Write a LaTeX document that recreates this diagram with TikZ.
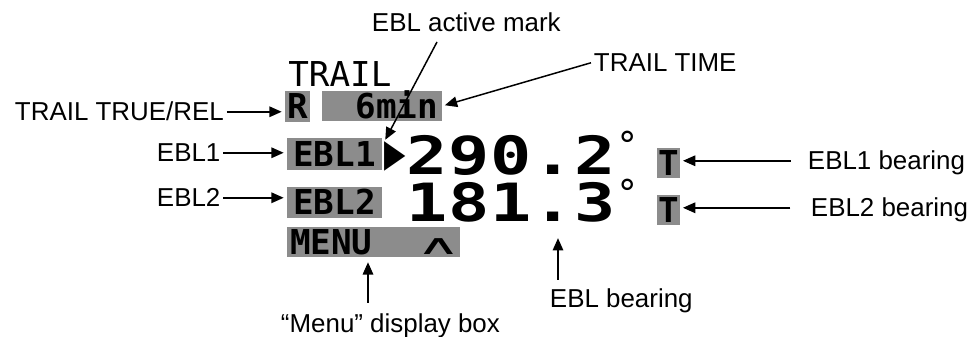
\documentclass[tikz,border=0pt]{standalone}
\usepackage{fontspec}
\setmainfont{Liberation Sans}
\newfontfamily\lcdfont{DejaVu Sans Mono}
\newfontfamily\symfont{DejaVu Sans}
\usepackage{xcolor}
\usetikzlibrary{arrows.meta}
\definecolor{lcdgray}{RGB}{140,140,140}

\begin{document}
\begin{tikzpicture}[x=0.02cm,y=-0.02cm,
  callout/.style={font=\fontsize{14.75pt}{17pt}\selectfont,inner xsep=1.5pt,inner ysep=0pt,text height=10.5pt,text depth=0pt,anchor=base west},
  lcdbox/.style={fill=lcdgray,inner sep=0pt,font=\lcdfont\bfseries\fontsize{19.5pt}{21pt}\selectfont,text height=14pt,text depth=0pt},
  digit/.style={font=\lcdfont\bfseries\fontsize{30pt}{32pt}\selectfont,inner sep=0pt,anchor=base},
  degree/.style={font=\symfont\fontsize{21pt}{23pt}\selectfont,inner sep=0pt,anchor=north},
  pointer/.style={-{Triangle[length=7pt,width=6pt]},line width=0.85pt}]
\useasboundingbox (0,0) rectangle (968,337);

% Display
\node[font=\lcdfont\fontsize{19.5pt}{21pt}\selectfont,inner sep=0pt,anchor=base west] (trail) at (288,87) {TRAIL};
\node[lcdbox,minimum width=0.5cm,minimum height=0.62cm] (rbox) at (297.5,106.5) {R};
\node[lcdbox,inner xsep=0.08cm,text width=2.24cm,align=right,minimum height=0.6cm] (minbox) at (382,106) {6min};
\node[lcdbox,minimum width=1.9cm,minimum height=0.64cm] (ebl1box) at (334.5,154) {EBL1};
\node[lcdbox,minimum width=1.9cm,minimum height=0.62cm] (ebl2box) at (334.5,202.5) {EBL2};
\node[lcdbox,inner xsep=0.06cm,text width=3.34cm,align=left,minimum height=0.6cm] (menubox) at (373.5,242)
  {MENU\hfill{\symfont\mdseries\scalebox{1.8}[0.8]{∧}}\kern-0.08cm};
\node[font=\symfont\fontsize{22pt}{24pt}\selectfont,inner sep=0pt] (mark) at (395.5,156.5) {\scalebox{0.72}[1]{▶}};
\foreach \ch [count=\i] in {2,9,0,.,2}
  \node[digit] (ra\i) at (385+42*\i,175) {\scalebox{1.3}[1]{\ch}};
\foreach \ch [count=\i] in {1,8,1,.,3}
  \node[digit] (rb\i) at (385+42*\i,222) {\scalebox{1.3}[1]{\ch}};
\node[degree] (dega) at (628,131) {°};
\node[degree] (degb) at (628,179) {°};
\node[lcdbox,minimum width=0.46cm,minimum height=0.6cm] (t1box) at (668.5,163) {T};
\node[lcdbox,minimum width=0.46cm,minimum height=0.6cm] (t2box) at (668.5,210) {T};

% Labels
\node[callout] (active) at (369,32) {EBL active mark};
\node[callout] (trailtime) at (591,72) {TRAIL TIME};
\node[callout] (truerel) at (12,121) {TRAIL TRUE/REL};
\node[callout] (ebl1lbl) at (154,162) {EBL1};
\node[callout] (ebl2lbl) at (154,207) {EBL2};
\node[callout] (brg1lbl) at (805,170) {EBL1 bearing};
\node[callout] (brg2lbl) at (808,217) {EBL2 bearing};
\node[callout] (brglbl) at (547,308) {EBL bearing};
\node[callout] (menulbl) at (278,333) {“Menu” display box};
\coordinate (activefoot) at (437,42);
\coordinate (menufoot) at (368,303);

\draw[pointer,shorten >=1pt] (activefoot) -- (mark.north west);
\draw[pointer,shorten >=1.5pt] (trailtime.west) -- (minbox.east);
\draw[pointer,shorten >=1.7pt] (truerel.east) -- (truerel.east -| rbox.west);
\draw[pointer,shorten >=1.7pt] (ebl1lbl.east) -- (ebl1lbl.east -| ebl1box.west);
\draw[pointer,shorten >=1.7pt] (ebl2lbl.east) -- (ebl2lbl.east -| ebl2box.west);
\draw[pointer,shorten <=8pt,shorten >=1.5pt] (brg1lbl.west) -- (brg1lbl.west -| t1box.east);
\draw[pointer,shorten <=10pt,shorten >=1.5pt] (brg2lbl.west) -- (brg2lbl.west -| t2box.east);
\draw[pointer,shorten <=5.4pt,shorten >=9pt] ([xshift=0.1cm]brglbl.north -| rb4.center) -- ([xshift=0.1cm]rb4.south);
\draw[pointer,shorten >=2.8pt] (menufoot) -- (menufoot |- menubox.south);
\end{tikzpicture}
\end{document}
